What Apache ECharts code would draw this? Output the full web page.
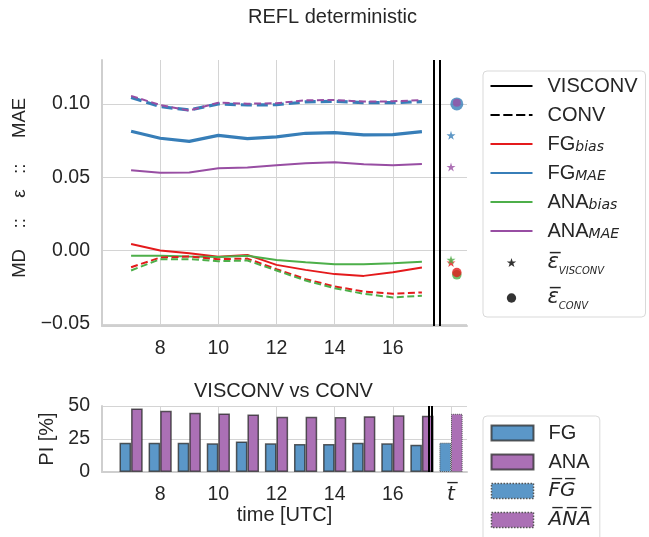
<!DOCTYPE html>
<html>
<head>
<meta charset="utf-8">
<title>REFL deterministic</title>
<script src="https://cdn.jsdelivr.net/npm/echarts@6.0.0/dist/echarts.min.js"></script>
<style>
  html, body { margin: 0; padding: 0; background: #fff; }
  #chart { width: 649px; height: 537px; }
</style>
</head>
<body>
<div id="chart"></div>
<script>
// lead times
const hours = [7, 8, 9, 10, 11, 12, 13, 14, 15, 16, 17]

// top panel: MD (bias) and MAE for VISCONV (solid) and CONV (dashed)
const fgBiasVisconv  = [0.0045, 0.0000, -0.0018, -0.0043, -0.0030, -0.0098, -0.0132, -0.0161, -0.0173, -0.0148, -0.0116]
const fgBiasConv     = [-0.0114, -0.0048, -0.0041, -0.0059, -0.0055, -0.0127, -0.0195, -0.0245, -0.0280, -0.0295, -0.0286]
const anaBiasVisconv = [-0.0036, -0.0036, -0.0041, -0.0045, -0.0036, -0.0064, -0.0080, -0.0093, -0.0093, -0.0086, -0.0077]
const anaBiasConv    = [-0.0136, -0.0059, -0.0059, -0.0073, -0.0068, -0.0136, -0.0205, -0.0257, -0.0295, -0.0320, -0.0309]
const fgMaeVisconv   = [0.0814, 0.0766, 0.0745, 0.0786, 0.0764, 0.0775, 0.0800, 0.0805, 0.0789, 0.0791, 0.0811]
const fgMaeConv      = [0.1045, 0.0982, 0.0959, 0.1000, 0.0993, 0.0995, 0.1014, 0.1018, 0.1009, 0.1009, 0.1016]
const anaMaeVisconv  = [0.0548, 0.0530, 0.0532, 0.0561, 0.0566, 0.0582, 0.0595, 0.0602, 0.0589, 0.0582, 0.0591]
const anaMaeConv     = [0.1055, 0.0993, 0.0955, 0.1009, 0.1002, 0.1005, 0.1025, 0.1027, 0.1016, 0.1018, 0.1027]

// time-mean markers, order: FG bias, FG MAE, ANA bias, ANA MAE
const epsVisconv = [-0.0082, 0.0786, -0.0064, 0.0570]
const epsConv    = [-0.0150, 0.1000, -0.0166, 0.1008]
const epsVisX = 18.0
const epsConvX = 18.2

// bottom panel: PI [%]
const piFg  = [22.2, 22.2, 22.2, 21.7, 23.2, 21.7, 21.2, 21.2, 22.2, 21.7, 20.7]
const piAna = [48.2, 46.4, 44.9, 44.4, 43.6, 41.8, 41.8, 41.6, 42.3, 42.9, 42.6]
const piFgMean = 22.2
const piAnaMean = 44.1
const meanX = 18

// separators between hours and the mean column
const sepTop = [17.41, 17.62]
const sepBottom = [17.45, 17.54]

const xTicksTop = [8, 10, 12, 14, 16]
const xTicksBottom = [8, 10, 12, 14, 16, 18]
const yTicksTop = [-0.05, 0, 0.05, 0.1]
const yTicksBottom = [0, 25, 50]

const RED = '#e41a1c', BLUE = '#377eb8', GREEN = '#4daf4a', PURPLE = '#984ea3'
const TXT = '#262626'
const GRID = '#d4d4d4'
const FONT = 'Liberation Sans'
const STAR_PTS = 'M0,-1L0.2245,-0.309L0.951,-0.309L0.363,0.118L0.588,0.809L0,0.382L-0.588,0.809L-0.363,0.118L-0.951,-0.309L-0.2245,-0.309Z'
const STAR = 'path://' + STAR_PTS
// legend keys: extra moveTo points pad the box so the marker stays small
const STAR_KEY = 'path://' + STAR_PTS + ' M-1.4,-1.4 M1.4,1.4'
const DOT_KEY = 'path://M-1,0A1,1 0 1,0 1,0A1,1 0 1,0 -1,0Z M-1.5,-1.5 M1.5,1.5'
// legend line keys (21:1 aspect -> 42x2 px)
const SOLID_KEY = 'path://M0,0H21V1H0Z'
const DASH_KEY = 'path://M0,0H4.6V1H0Z M6.4,0H11V1H6.4Z M12.8,0H17.4V1H12.8Z M19.2,0H21V1H19.2Z'

const pairs = arr => hours.map((h, i) => [h, arr[i]])

function lineSeries(name, values, color, width, dashed) {
  return {
    name, type: 'line', xAxisIndex: 0, yAxisIndex: 0,
    data: pairs(values), symbol: 'none', silent: true,
    lineStyle: { color, width, type: dashed ? (width > 2 ? [11, 5] : [7, 3.5]) : 'solid' },
    itemStyle: { color },
  }
}

function topLegendText(n) {
  if (n.startsWith('eps_')) return '{e|ε\u0305}{s|' + n.slice(4) + '}'
  return n.replace(/_(\w+)/, '{sub|$1}')
}

const chart = echarts.init(document.getElementById('chart'), null, { renderer: 'canvas' })

const axisLine = { show: true, onZero: false, lineStyle: { color: '#cfcfcf', width: 2 } }
const splitLine = { show: true, lineStyle: { color: GRID, width: 1 } }
const tickLabel = { color: TXT, fontSize: 19.5, fontFamily: FONT }

const option = {
  animation: false,
  backgroundColor: '#fff',
  textStyle: { fontFamily: FONT, color: TXT },
  title: [
    { text: 'REFL deterministic', left: 248, top: 7, padding: 0,
      textStyle: { fontSize: 20, fontWeight: 'normal', color: TXT, fontFamily: FONT } },
    { text: 'VISCONV vs CONV', left: 194, top: 381, padding: 0,
      textStyle: { fontSize: 20, fontWeight: 'normal', color: TXT, fontFamily: FONT } },
  ],
  grid: [
    { left: 102, top: 60, width: 365, height: 266 },
    { left: 102, top: 406, width: 365, height: 66 },
  ],
  xAxis: [
    { gridIndex: 0, type: 'value', min: 6, max: 18.55,
      axisLine, axisTick: { show: false, customValues: xTicksTop },
      axisLabel: { ...tickLabel, margin: 13, customValues: xTicksTop },
      splitLine },
    { gridIndex: 1, type: 'value', min: 6, max: 18.55,
      name: 'time [UTC]', nameLocation: 'middle', nameGap: 30,
      nameTextStyle: { fontSize: 20, color: TXT, fontFamily: FONT },
      axisLine, axisTick: { show: false, customValues: xTicksBottom },
      axisLabel: { ...tickLabel, margin: 13, customValues: xTicksBottom,
        formatter: v => v === meanX ? '{t|t\u0305}' : String(v),
        rich: { t: { fontSize: 20, fontStyle: 'italic', fontFamily: 'DejaVu Sans', color: TXT } } },
      splitLine },
    { gridIndex: 1, type: 'value', min: 6, max: 18.55, show: false },
  ],
  yAxis: [
    { gridIndex: 0, type: 'value', min: -0.0515, max: 0.13,
      name: '  MD    ::    ε   ::     MAE', nameLocation: 'middle', nameGap: 69,
      nameTextStyle: { fontSize: 18.5, color: TXT, fontFamily: FONT },
      axisLine, axisTick: { show: false, customValues: yTicksTop },
      axisLabel: { ...tickLabel, margin: 12, customValues: yTicksTop,
        formatter: v => (v < 0 ? '\u2212' : '') + Math.abs(v).toFixed(2) },
      splitLine },
    { gridIndex: 1, type: 'value', min: 0, max: 50,
      name: 'PI [%]', nameLocation: 'middle', nameGap: 42,
      nameTextStyle: { fontSize: 20, color: TXT, fontFamily: FONT },
      axisLine, axisTick: { show: false, customValues: yTicksBottom },
      axisLabel: { ...tickLabel, margin: 12, customValues: yTicksBottom },
      splitLine },
  ],
  legend: [
    { data: [
        { name: 'VISCONV', icon: SOLID_KEY }, { name: 'CONV', icon: DASH_KEY },
        { name: 'FG_bias', icon: SOLID_KEY }, { name: 'FG_MAE', icon: SOLID_KEY },
        { name: 'ANA_bias', icon: SOLID_KEY }, { name: 'ANA_MAE', icon: SOLID_KEY },
        { name: 'eps_VISCONV', icon: STAR_KEY }, { name: 'eps_CONV', icon: DOT_KEY }],
      orient: 'vertical', left: 483, top: 71, padding: [5, 8, 6, 7.5],
      itemWidth: 42, itemHeight: 14, itemGap: 9, selectedMode: false,
      backgroundColor: '#fff', borderColor: '#d9d9d9', borderWidth: 1, borderRadius: 4,
      itemStyle: { borderWidth: 0 },
      formatter: topLegendText,
      textStyle: { fontSize: 20, color: TXT, fontFamily: FONT, lineHeight: 20, padding: [0, 0, 0, 10],
        rich: {
          sub: { fontSize: 14, fontStyle: 'italic', fontFamily: 'DejaVu Sans', color: TXT, lineHeight: 9, verticalAlign: 'bottom' },
          e: { fontSize: 21, fontStyle: 'italic', fontFamily: 'DejaVu Sans', color: TXT, lineHeight: 26 },
          s: { fontSize: 10, fontStyle: 'italic', fontFamily: 'DejaVu Sans', color: TXT, lineHeight: 6, verticalAlign: 'bottom' } } } },
    { data: ['FG', 'ANA',
        { name: 'FG_mean', itemStyle: { borderType: 'dotted', borderWidth: 1.5, borderColor: '#555' } },
        { name: 'ANA_mean', itemStyle: { borderType: 'dotted', borderWidth: 1.5, borderColor: '#555' } }],
      orient: 'vertical', left: 483, top: 416, height: 220, padding: [7, 9, 30, 7.5],
      itemWidth: 42, itemHeight: 15, itemGap: 9, selectedMode: false, icon: 'rect',
      backgroundColor: '#fff', borderColor: '#d9d9d9', borderWidth: 1, borderRadius: 4,
      formatter: n => n.endsWith('_mean') ? '{o|' + n.split('_')[0].split('').join('\u0305') + '\u0305}' : n,
      textStyle: { fontSize: 20, color: TXT, fontFamily: FONT, lineHeight: 20, padding: [0, 0, 0, 10],
        rich: { o: { fontSize: 20, fontStyle: 'italic', fontFamily: 'DejaVu Sans', color: TXT } } } },
  ],
  series: [
    // legend-only style keys
    { name: 'VISCONV', type: 'line', xAxisIndex: 0, yAxisIndex: 0, data: [], symbol: 'none',
      lineStyle: { color: '#000', width: 2 }, itemStyle: { color: '#000' } },
    { name: 'CONV', type: 'line', xAxisIndex: 0, yAxisIndex: 0, data: [], symbol: 'none',
      lineStyle: { color: '#000', width: 2, type: [8, 3.5] }, itemStyle: { color: '#000' } },
    { name: 'eps_VISCONV', type: 'scatter', xAxisIndex: 0, yAxisIndex: 0, data: [], symbol: STAR,
      itemStyle: { color: '#000' } },
    { name: 'eps_CONV', type: 'scatter', xAxisIndex: 0, yAxisIndex: 0, data: [], symbol: 'circle',
      itemStyle: { color: '#000' } },

    { ...lineSeries('FG_bias', fgBiasVisconv, RED, 2, false),
      markLine: { silent: true, symbol: ['none', 'none'], label: { show: false },
        lineStyle: { color: '#000', width: 2, type: 'solid' },
        data: sepTop.map(x => ({ xAxis: x })) } },
    lineSeries('FG_MAE', fgMaeVisconv, BLUE, 3.2, false),
    lineSeries('ANA_bias', anaBiasVisconv, GREEN, 2, false),
    lineSeries('ANA_MAE', anaMaeVisconv, PURPLE, 2, false),
    lineSeries('FG_bias', fgBiasConv, RED, 2, true),
    lineSeries('FG_MAE', fgMaeConv, BLUE, 3.2, true),
    lineSeries('ANA_bias', anaBiasConv, GREEN, 2, true),
    lineSeries('ANA_MAE', anaMaeConv, PURPLE, 2, true),

    { type: 'scatter', xAxisIndex: 0, yAxisIndex: 0, silent: true, symbol: STAR, symbolSize: 9,
      data: [
        { value: [epsVisX, epsVisconv[0]], itemStyle: { color: RED } },
        { value: [epsVisX, epsVisconv[1]], itemStyle: { color: BLUE } },
        { value: [epsVisX, epsVisconv[2]], itemStyle: { color: GREEN } },
        { value: [epsVisX, epsVisconv[3]], itemStyle: { color: PURPLE } },
      ] },
    { type: 'scatter', xAxisIndex: 0, yAxisIndex: 0, silent: true, symbol: 'circle', symbolSize: 9.5,
      data: [
        { value: [epsConvX, epsConv[2]], itemStyle: { color: GREEN } },
        { value: [epsConvX, epsConv[0]], itemStyle: { color: RED } },
        { value: [epsConvX, epsConv[1]], itemStyle: { color: BLUE }, symbolSize: 13 },
        { value: [epsConvX, epsConv[3]], itemStyle: { color: PURPLE, opacity: 0.75 }, symbolSize: 8 },
      ] },

    { name: 'FG', type: 'bar', xAxisIndex: 1, yAxisIndex: 1, data: pairs(piFg),
      barWidth: 11.6, barGap: '0%', silent: true,
      itemStyle: { color: '#5b97c8', borderColor: 'rgba(40,40,40,0.75)', borderWidth: 1.5 },
      markLine: { silent: true, symbol: ['none', 'none'], label: { show: false },
        lineStyle: { color: '#000', width: 2, type: 'solid' },
        data: sepBottom.map(x => ({ xAxis: x })) } },
    { name: 'ANA', type: 'bar', xAxisIndex: 1, yAxisIndex: 1, data: pairs(piAna),
      barWidth: 11.6, barGap: '0%', silent: true,
      itemStyle: { color: '#ab70b5', borderColor: 'rgba(40,40,40,0.75)', borderWidth: 1.5 } },
    { name: 'FG_mean', type: 'bar', xAxisIndex: 2, yAxisIndex: 1, data: [[meanX, piFgMean]],
      barWidth: 11.6, barGap: '0%', silent: true,
      itemStyle: { color: '#5b97c8', borderColor: '#555', borderWidth: 1, borderType: 'dotted' } },
    { name: 'ANA_mean', type: 'bar', xAxisIndex: 2, yAxisIndex: 1, data: [[meanX, piAnaMean]],
      barWidth: 11.6, barGap: '0%', silent: true,
      itemStyle: { color: '#ab70b5', borderColor: '#555', borderWidth: 1, borderType: 'dotted' } },
  ],
}

chart.setOption(option)
window.addEventListener('resize', () => chart.resize())
</script>
</body>
</html>
